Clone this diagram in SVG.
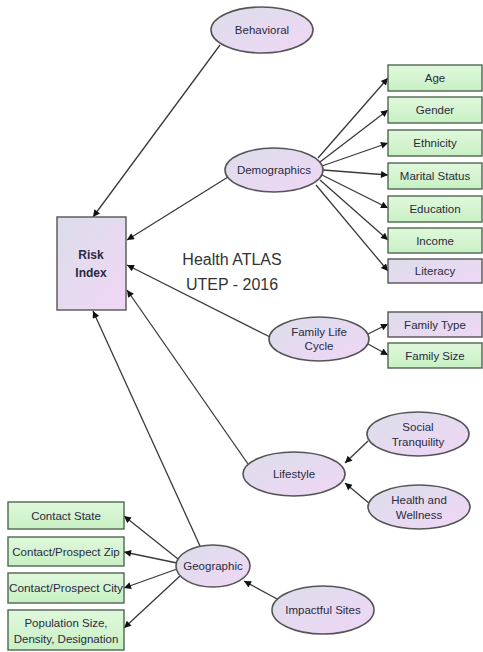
<svg xmlns="http://www.w3.org/2000/svg" width="483" height="652" viewBox="0 0 483 652">
<style>
text{font-family:"Liberation Sans",Arial,sans-serif;font-size:11.5px;fill:#2a2a40;text-anchor:middle}
.ell{fill:url(#lav);stroke:#555;stroke-width:1.6}
.gbox{fill:url(#grn);stroke:#4f6650;stroke-width:1.4}
.lbox{fill:url(#lav);stroke:#555;stroke-width:1.4}
.edge{stroke:#3a3a3a;stroke-width:1.3;fill:none;marker-end:url(#ah)}
.big{font-size:16px;fill:#333}
.bold{font-weight:bold;font-size:12px}
</style>
<defs>
<linearGradient id="lav" x1="0" y1="0" x2="1" y2="1">
<stop offset="0" stop-color="#dcdeea"/>
<stop offset="1" stop-color="#f0d6f6"/>
</linearGradient>
<linearGradient id="grn" x1="0" y1="0" x2="0" y2="1">
<stop offset="0" stop-color="#e0f8dc"/>
<stop offset="1" stop-color="#c8f0c4"/>
</linearGradient>
<marker id="ah" viewBox="0 0 10 10" refX="10" refY="5" markerWidth="9" markerHeight="7" markerUnits="userSpaceOnUse" orient="auto">
<path d="M0,0 L10,5 L0,10 z" fill="#111"/>
</marker>
</defs>
<rect width="483" height="652" fill="#fff"/>
<g id="connectors">
<line class="edge" x1="220" y1="45" x2="93" y2="217"/>
<line class="edge" x1="228" y1="177" x2="127" y2="240"/>
<line class="edge" x1="270" y1="337" x2="127" y2="265"/>
<line class="edge" x1="248" y1="464" x2="127" y2="290"/>
<line class="edge" x1="200" y1="546" x2="93" y2="311"/>
<line class="edge" x1="318" y1="158" x2="388" y2="78"/>
<line class="edge" x1="320" y1="162" x2="388" y2="110"/>
<line class="edge" x1="322" y1="166" x2="388" y2="143"/>
<line class="edge" x1="323" y1="170" x2="388" y2="175"/>
<line class="edge" x1="322" y1="175" x2="388" y2="208"/>
<line class="edge" x1="320" y1="180" x2="388" y2="240"/>
<line class="edge" x1="316" y1="185" x2="388" y2="271"/>
<line class="edge" x1="368" y1="334" x2="388" y2="324"/>
<line class="edge" x1="368" y1="344" x2="388" y2="355"/>
<line class="edge" x1="368" y1="441" x2="345" y2="463"/>
<line class="edge" x1="370" y1="504" x2="345" y2="483"/>
<line class="edge" x1="178" y1="559" x2="124" y2="516"/>
<line class="edge" x1="177" y1="563" x2="124" y2="552"/>
<line class="edge" x1="177" y1="569" x2="124" y2="588"/>
<line class="edge" x1="180" y1="576" x2="124" y2="628"/>
<line class="edge" x1="279" y1="600" x2="244" y2="581"/>
</g>
<g id="risk"><rect class="lbox" x="57" y="217" width="69" height="93"/><text class="bold" x="91" y="259">Risk</text><text class="bold" x="91" y="277">Index</text></g>
<g id="title"><text class="big" x="232" y="265">Health ATLAS</text><text class="big" x="232" y="290">UTEP - 2016</text></g>
<g id="behavioral"><ellipse class="ell" cx="262" cy="30" rx="51" ry="23"/><text x="262" y="34">Behavioral</text></g>
<g id="demographics"><ellipse class="ell" cx="274" cy="170" rx="49" ry="22"/><text x="274" y="174">Demographics</text></g>
<g id="age"><rect class="gbox" x="388" y="65" width="94" height="26"/><text x="435" y="82">Age</text></g>
<g id="gender"><rect class="gbox" x="388" y="97" width="94" height="26"/><text x="435" y="114">Gender</text></g>
<g id="ethnicity"><rect class="gbox" x="388" y="130" width="94" height="26"/><text x="435" y="147">Ethnicity</text></g>
<g id="marital"><rect class="gbox" x="388" y="163" width="94" height="26"/><text x="435" y="180">Marital Status</text></g>
<g id="education"><rect class="gbox" x="388" y="196" width="94" height="26"/><text x="435" y="213">Education</text></g>
<g id="income"><rect class="gbox" x="388" y="228" width="94" height="25"/><text x="435" y="245">Income</text></g>
<g id="literacy"><rect class="lbox" x="388" y="259" width="94" height="24"/><text x="435" y="275">Literacy</text></g>
<g id="familylife"><ellipse class="ell" cx="319" cy="339" rx="50" ry="22"/><text x="319" y="336">Family Life</text><text x="319" y="350">Cycle</text></g>
<g id="familytype"><rect class="lbox" x="388" y="312" width="94" height="25"/><text x="435" y="329">Family Type</text></g>
<g id="familysize"><rect class="gbox" x="388" y="343" width="94" height="25"/><text x="435" y="360">Family Size</text></g>
<g id="lifestyle"><ellipse class="ell" cx="294" cy="474" rx="51" ry="22"/><text x="294" y="478">Lifestyle</text></g>
<g id="social"><ellipse class="ell" cx="418" cy="434" rx="51" ry="22"/><text x="418" y="431">Social</text><text x="418" y="446">Tranquility</text></g>
<g id="health"><ellipse class="ell" cx="419" cy="507" rx="51" ry="22"/><text x="419" y="504">Health and</text><text x="419" y="519">Wellness</text></g>
<g id="geographic"><ellipse class="ell" cx="213" cy="566" rx="37" ry="21"/><text x="213" y="570">Geographic</text></g>
<g id="impactful"><ellipse class="ell" cx="323" cy="610" rx="51" ry="24"/><text x="323" y="614">Impactful Sites</text></g>
<g id="contactstate"><rect class="gbox" x="8" y="502" width="116" height="27"/><text x="66" y="520">Contact State</text></g>
<g id="zip"><rect class="gbox" x="8" y="537" width="116" height="29"/><text x="66" y="556">Contact/Prospect Zip</text></g>
<g id="city"><rect class="gbox" x="8" y="573" width="116" height="30"/><text x="66" y="592" textLength="114" lengthAdjust="spacingAndGlyphs">Contact/Prospect City</text></g>
<g id="population"><rect class="gbox" x="8" y="610" width="116" height="40"/><text x="66" y="627">Population Size,</text><text x="66" y="643">Density, Designation</text></g>
</svg>
